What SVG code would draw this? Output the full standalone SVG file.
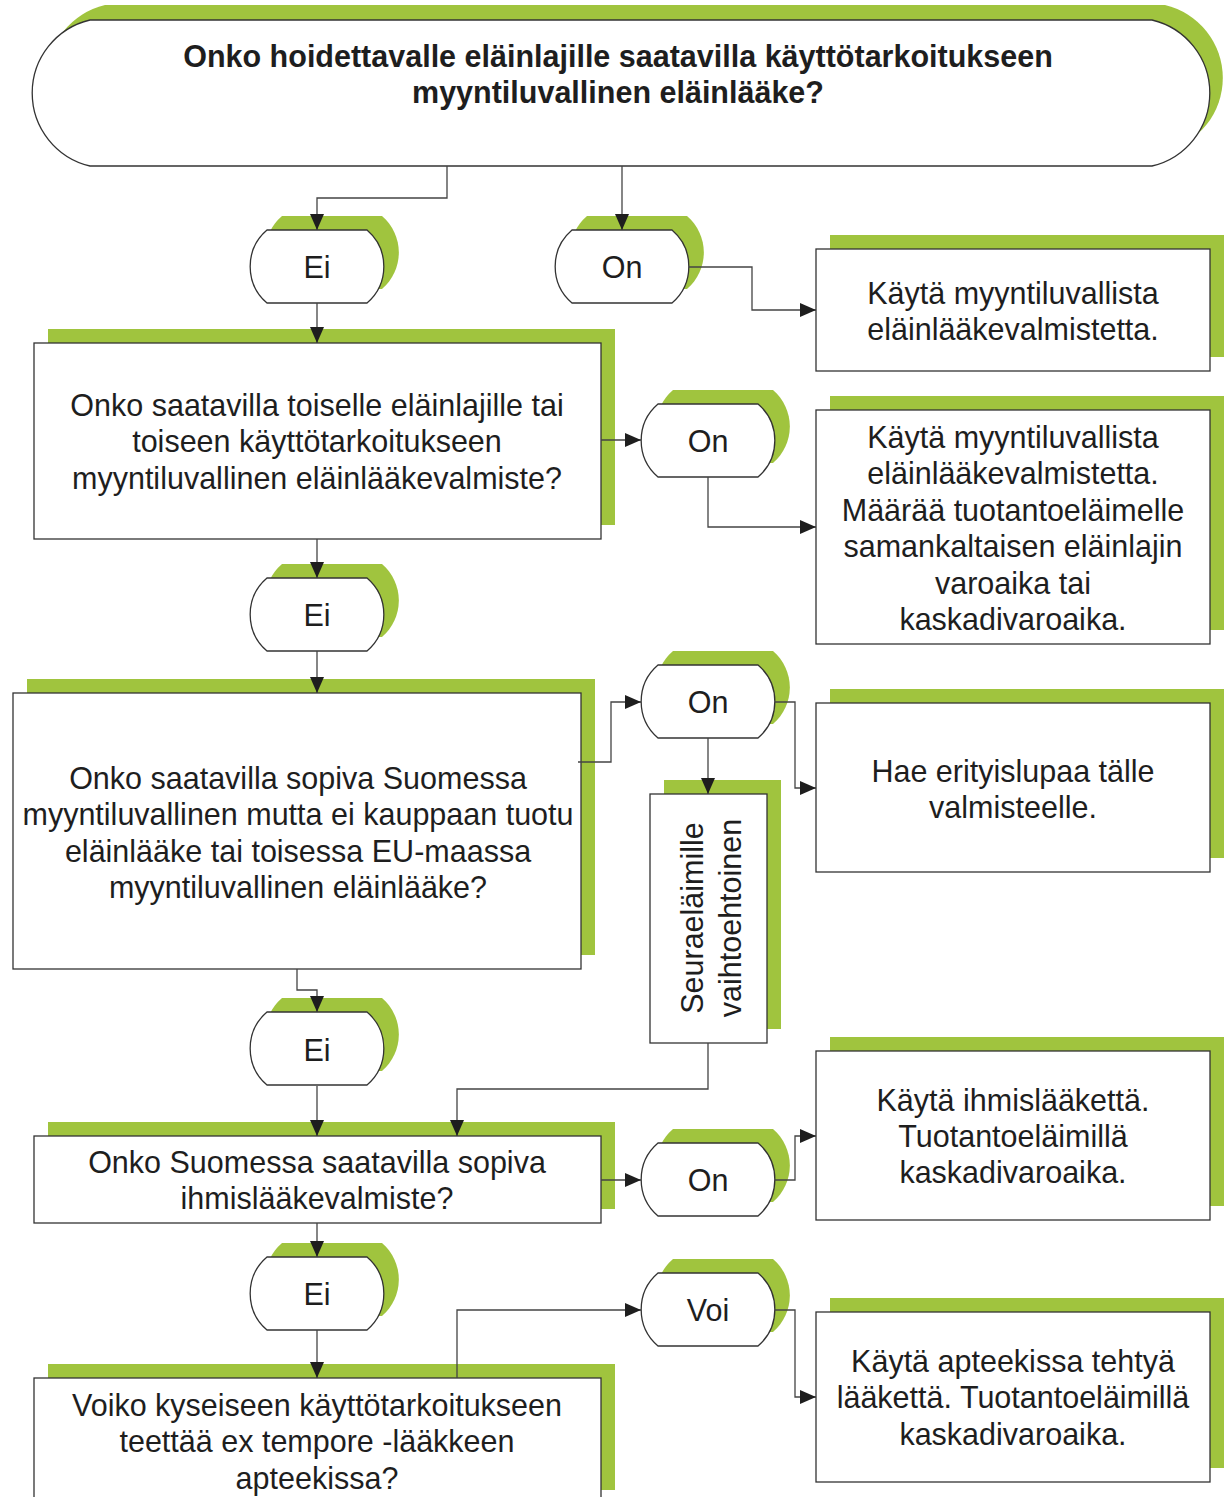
<svg xmlns="http://www.w3.org/2000/svg" width="1227" height="1497" viewBox="0 0 1227 1497">
<style>
.sh{fill:#a0c43e;stroke:none}
.nd{fill:#fff;stroke:#333;stroke-width:1.3}
.t{font-family:"Liberation Sans",Arial,sans-serif;font-size:30.5px;fill:#1e1e1e;text-anchor:middle}
.b{font-weight:bold}
.c{fill:none;stroke:#444;stroke-width:1.3}
</style>
<defs>
<marker id="ah" viewBox="0 0 16 14" refX="16" refY="7" markerWidth="16" markerHeight="14" markerUnits="userSpaceOnUse" orient="auto">
<path d="M0,0 L16,7 L0,14 z" fill="#1e1e1e"/>
</marker>
<path id="pill" d="M17,0 H117 A48,48 0 0 1 117,73 H17 A48,48 0 0 1 17,0 z"/>
</defs>
<rect width="1227" height="1497" fill="#fff"/>

<g id="start">
<path class="sh" d="M105,5 H1165 A75,75 0 0 1 1165,151 H105 A75,75 0 0 1 105,5 z"/>
<path class="nd" d="M90,20 H1152 A75,75 0 0 1 1152,166 H90 A75,75 0 0 1 90,20 z"/>
<text class="t b" x="618" y="67">Onko hoidettavalle eläinlajille saatavilla käyttötarkoitukseen</text>
<text class="t b" x="618" y="103">myyntiluvallinen eläinlääke?</text>
</g>

<g id="ei1">
<use href="#pill" class="sh" x="265" y="216"/>
<use href="#pill" class="nd" x="250" y="230"/>
<text class="t" x="317" y="278">Ei</text>
</g>
<g id="on1">
<use href="#pill" class="sh" x="570" y="216"/>
<use href="#pill" class="nd" x="555" y="230"/>
<text class="t" x="622" y="278">On</text>
</g>
<g id="r1">
<rect class="sh" x="830" y="235" width="394" height="122"/>
<rect class="nd" x="816" y="249" width="394" height="122"/>
<text class="t" x="1013" y="304">Käytä myyntiluvallista</text>
<text class="t" x="1013" y="340">eläinlääkevalmistetta.</text>
</g>

<g id="q2">
<rect class="sh" x="48" y="329" width="567" height="196"/>
<rect class="nd" x="34" y="343" width="567" height="196"/>
<text class="t" x="317" y="416">Onko saatavilla toiselle eläinlajille tai</text>
<text class="t" x="317" y="452">toiseen käyttötarkoitukseen</text>
<text class="t" x="317" y="489">myyntiluvallinen eläinlääkevalmiste?</text>
</g>
<g id="on2">
<use href="#pill" class="sh" x="656" y="390"/>
<use href="#pill" class="nd" x="641" y="404"/>
<text class="t" x="708" y="452">On</text>
</g>
<g id="r2">
<rect class="sh" x="830" y="396" width="394" height="234"/>
<rect class="nd" x="816" y="410" width="394" height="234"/>
<text class="t" x="1013" y="448">Käytä myyntiluvallista</text>
<text class="t" x="1013" y="484">eläinlääkevalmistetta.</text>
<text class="t" x="1013" y="521">Määrää tuotantoeläimelle</text>
<text class="t" x="1013" y="557">samankaltaisen eläinlajin</text>
<text class="t" x="1013" y="594">varoaika tai</text>
<text class="t" x="1013" y="630">kaskadivaroaika.</text>
</g>

<g id="ei2">
<use href="#pill" class="sh" x="265" y="564"/>
<use href="#pill" class="nd" x="250" y="578"/>
<text class="t" x="317" y="626">Ei</text>
</g>

<g id="q3">
<rect class="sh" x="27" y="679" width="568" height="276"/>
<rect class="nd" x="13" y="693" width="568" height="276"/>
<text class="t" x="298" y="789">Onko saatavilla sopiva Suomessa</text>
<text class="t" x="298" y="825">myyntiluvallinen mutta ei kauppaan tuotu</text>
<text class="t" x="298" y="862">eläinlääke tai toisessa EU-maassa</text>
<text class="t" x="298" y="898">myyntiluvallinen eläinlääke?</text>
</g>
<g id="on3">
<use href="#pill" class="sh" x="656" y="651"/>
<use href="#pill" class="nd" x="641" y="665"/>
<text class="t" x="708" y="713">On</text>
</g>
<g id="r3">
<rect class="sh" x="830" y="689" width="394" height="169"/>
<rect class="nd" x="816" y="703" width="394" height="169"/>
<text class="t" x="1013" y="782">Hae erityislupaa tälle</text>
<text class="t" x="1013" y="818">valmisteelle.</text>
</g>
<g id="seura">
<rect class="sh" x="664" y="780" width="117" height="249"/>
<rect class="nd" x="650" y="794" width="117" height="249"/>
<g transform="translate(708,918) rotate(-90)">
<text class="t" x="0" y="-5">Seuraeläimille</text>
<text class="t" x="0" y="33">vaihtoehtoinen</text>
</g>
</g>

<g id="ei3">
<use href="#pill" class="sh" x="265" y="998"/>
<use href="#pill" class="nd" x="250" y="1012"/>
<text class="t" x="317" y="1061">Ei</text>
</g>

<g id="q4">
<rect class="sh" x="48" y="1122" width="567" height="87"/>
<rect class="nd" x="34" y="1136" width="567" height="87"/>
<text class="t" x="317" y="1173">Onko Suomessa saatavilla sopiva</text>
<text class="t" x="317" y="1209">ihmislääkevalmiste?</text>
</g>
<g id="on4">
<use href="#pill" class="sh" x="656" y="1129"/>
<use href="#pill" class="nd" x="641" y="1143"/>
<text class="t" x="708" y="1191">On</text>
</g>
<g id="r4">
<rect class="sh" x="830" y="1037" width="394" height="169"/>
<rect class="nd" x="816" y="1051" width="394" height="169"/>
<text class="t" x="1013" y="1111">Käytä ihmislääkettä.</text>
<text class="t" x="1013" y="1147">Tuotantoeläimillä</text>
<text class="t" x="1013" y="1183">kaskadivaroaika.</text>
</g>

<g id="ei4">
<use href="#pill" class="sh" x="265" y="1243"/>
<use href="#pill" class="nd" x="250" y="1257"/>
<text class="t" x="317" y="1305">Ei</text>
</g>

<g id="q5">
<rect class="sh" x="48" y="1364" width="567" height="126"/>
<rect class="nd" x="34" y="1378" width="567" height="140"/>
<text class="t" x="317" y="1416">Voiko kyseiseen käyttötarkoitukseen</text>
<text class="t" x="317" y="1452">teettää ex tempore -lääkkeen</text>
<text class="t" x="317" y="1489">apteekissa?</text>
</g>
<g id="voi">
<use href="#pill" class="sh" x="656" y="1259"/>
<use href="#pill" class="nd" x="641" y="1273"/>
<text class="t" x="708" y="1321">Voi</text>
</g>
<g id="r5">
<rect class="sh" x="830" y="1298" width="394" height="170"/>
<rect class="nd" x="816" y="1312" width="394" height="170"/>
<text class="t" x="1013" y="1372">Käytä apteekissa tehtyä</text>
<text class="t" x="1013" y="1408">lääkettä. Tuotantoeläimillä</text>
<text class="t" x="1013" y="1445">kaskadivaroaika.</text>
</g>

<g id="connectors" class="c" marker-end="url(#ah)">
<path d="M447,166 V198 H317 V230"/>
<path d="M622,166 V230"/>
<path d="M689,267 H752 V310 H816"/>
<path d="M317,303 V343"/>
<path d="M601,440 H641"/>
<path d="M708,477 V527 H816"/>
<path d="M317,539 V578"/>
<path d="M317,651 V693"/>
<path d="M578,762 H611 V702 H641"/>
<path d="M775,702 H795 V788 H816"/>
<path d="M708,738 V794"/>
<path d="M708,1043 V1089 H457 V1136"/>
<path d="M297,969 V990 H317 V1012"/>
<path d="M317,1086 V1136"/>
<path d="M601,1180 H641"/>
<path d="M775,1180 H795 V1136 H816"/>
<path d="M317,1223 V1257"/>
<path d="M317,1330 V1378"/>
<path d="M457,1378 V1310 H641"/>
<path d="M775,1310 H795 V1397 H816"/>
</g>
</svg>
